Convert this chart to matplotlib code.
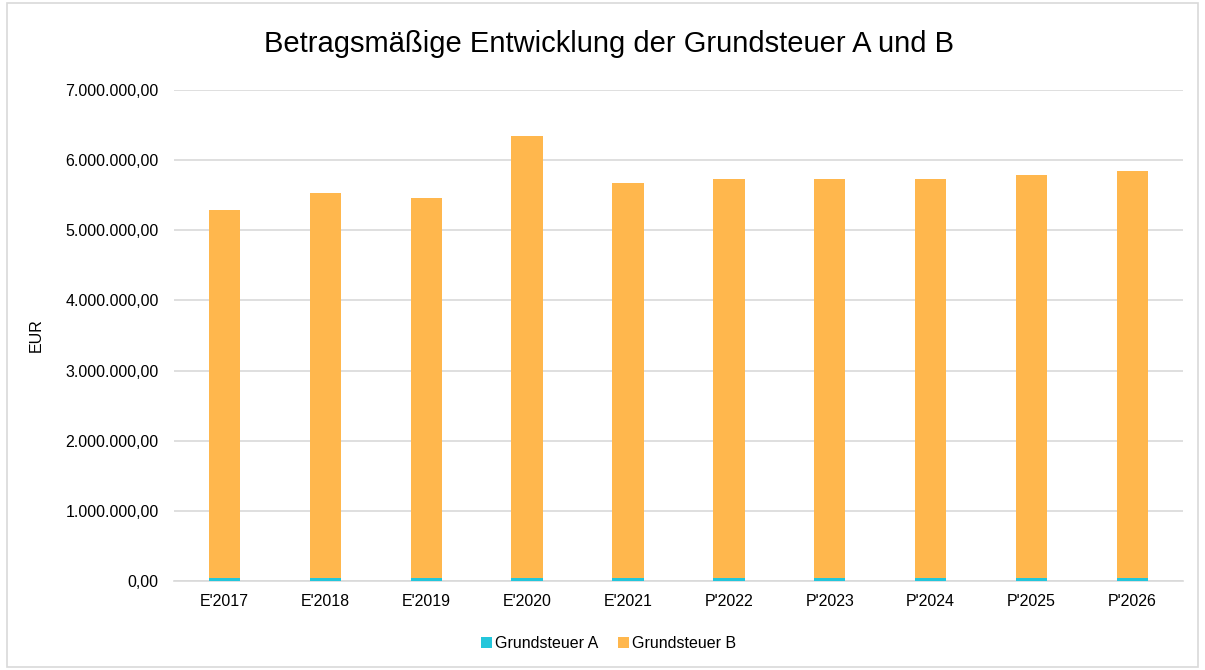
import matplotlib
matplotlib.use("Agg")
import matplotlib.pyplot as plt
from matplotlib.ticker import FuncFormatter, MultipleLocator
from matplotlib.patches import Rectangle
import numpy as np

plt.rcParams['font.family'] = ['Liberation Sans', 'DejaVu Sans']

years = ["E'2017", "E'2018", "E'2019", "E'2020", "E'2021",
         "P'2022", "P'2023", "P'2024", "P'2025", "P'2026"]
steuer_a = [48000, 50000, 47000, 48000, 48000, 48000, 48000, 48000, 48000, 48000]
steuer_b = [5242000, 5480000, 5413000, 6292000, 5632000,
            5682000, 5682000, 5682000, 5742000, 5792000]


def de_format(v, pos):
    s = "{:,.2f}".format(v)
    return s.replace(",", "X").replace(".", ",").replace("X", ".")


fig = plt.figure(figsize=(12.05, 6.7), dpi=100)
ax = fig.add_axes([0.1444, 0.1328, 0.8373, 0.7329])

x = np.arange(len(years))
ax.bar(x, steuer_a, width=0.31, color='#23C6DB', label='Grundsteuer A', zorder=3)
ax.bar(x, steuer_b, width=0.31, bottom=steuer_a, color='#FFB74D',
       label='Grundsteuer B', zorder=3)

ax.set_xlim(-0.5, len(years) - 0.5)
ax.set_ylim(0, 7000000)
ax.yaxis.set_major_locator(MultipleLocator(1000000))
ax.yaxis.set_major_formatter(FuncFormatter(de_format))
ax.set_xticks(x)
ax.set_xticklabels(years)
ax.tick_params(axis='both', length=0, labelsize=11.5, colors='#000000')
ax.tick_params(axis='x', pad=9)
ax.tick_params(axis='y', pad=11)
ax.grid(axis='y', color='#d9d9d9', linewidth=1.2, zorder=0)
for side in ['top', 'right', 'left']:
    ax.spines[side].set_visible(False)
ax.spines['bottom'].set_color('#d9d9d9')
ax.spines['bottom'].set_linewidth(1.2)

ax.set_ylabel('EUR', fontsize=11.5)
ax.yaxis.set_label_coords(-0.129, 0.5)
fig.text(0.505, 0.934, 'Betragsmäßige Entwicklung der Grundsteuer A und B',
         ha='center', va='center', fontsize=21, color='#000000')

fig.legend(loc='center', bbox_to_anchor=(0.505, 0.04), ncol=2, frameon=False,
           fontsize=11.5, handlelength=0.7, handleheight=0.7, handletextpad=0.2,
           columnspacing=1.2)

fig.patches.append(Rectangle((0.006, 0.004), 0.988, 0.992, transform=fig.transFigure,
                             fill=False, edgecolor='#d9d9d9', linewidth=1.2))

fig.savefig('out.png', dpi=100)
